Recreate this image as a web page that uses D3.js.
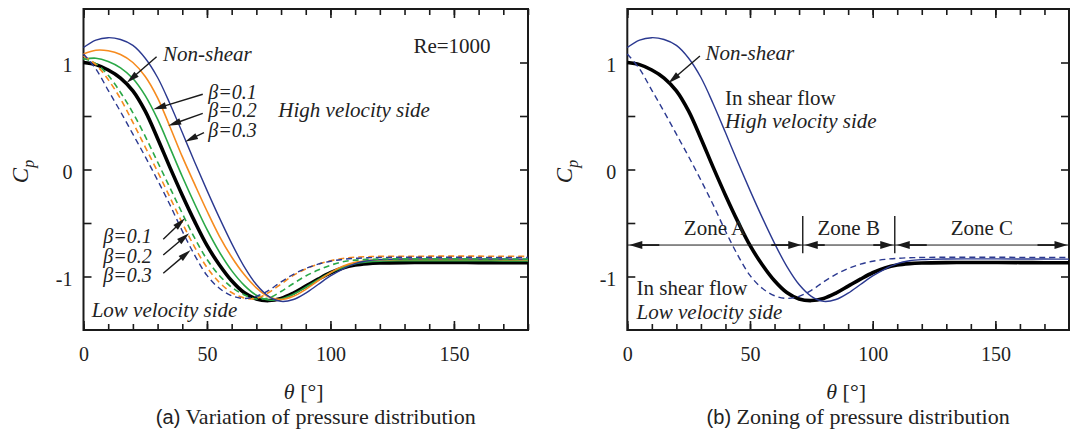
<!DOCTYPE html>
<html>
<head>
<meta charset="utf-8">
<script src="https://cdn.jsdelivr.net/npm/d3@7"></script>
<style>
  body { margin: 0; background: #fff; }
  svg { display: block; }
  text { font-family: "Liberation Serif", "Times New Roman", serif; fill: #222; }
</style>
</head>
<body>
<svg id="chart" width="1070" height="435"></svg>
<script>
// Angle around the cylinder from the front stagnation point [deg]
const thetaDeg = [0,5,10,15,20,25,30,35,40,45,50,55,60,65,70,75,80,85,90,95,100,105,110,115,120,130,140,150,160,170,180];

// Pressure coefficient, uniform (non-shear) flow
const cpNonShear = [1.00,0.98,0.93,0.855,0.735,0.545,0.29,0.02,-0.24,-0.485,-0.71,-0.89,-1.04,-1.15,-1.21,-1.225,-1.205,-1.155,-1.09,-1.025,-0.965,-0.92,-0.893,-0.88,-0.874,-0.87,-0.869,-0.869,-0.87,-0.871,-0.872];

// High velocity side, beta = 0.1 / 0.2 / 0.3
const cpHigh01 = [1.03,1.04,1.01,0.95,0.85,0.69,0.47,0.205,-0.065,-0.32,-0.56,-0.77,-0.945,-1.08,-1.175,-1.22,-1.21,-1.165,-1.10,-1.03,-0.965,-0.915,-0.88,-0.863,-0.856,-0.853,-0.852,-0.852,-0.853,-0.854,-0.855];
const cpHigh02 = [1.08,1.115,1.11,1.075,1.0,0.87,0.67,0.40,0.12,-0.137,-0.388,-0.622,-0.818,-0.98,-1.106,-1.19,-1.215,-1.185,-1.12,-1.04,-0.965,-0.905,-0.868,-0.851,-0.844,-0.84,-0.84,-0.84,-0.841,-0.842,-0.843];
const cpHigh03 = [1.14,1.21,1.232,1.215,1.16,1.04,0.86,0.615,0.345,0.07,-0.195,-0.45,-0.69,-0.905,-1.075,-1.185,-1.232,-1.215,-1.155,-1.075,-0.995,-0.93,-0.88,-0.853,-0.842,-0.836,-0.835,-0.835,-0.836,-0.837,-0.838];

// Low velocity side, beta = 0.1 / 0.2 / 0.3
const cpLow01 = [1.04,0.99,0.88,0.72,0.53,0.31,0.07,-0.17,-0.41,-0.64,-0.84,-0.99,-1.10,-1.17,-1.21,-1.20,-1.14,-1.065,-0.995,-0.94,-0.895,-0.862,-0.847,-0.84,-0.837,-0.835,-0.835,-0.835,-0.836,-0.837,-0.838];
const cpLow02 = [1.06,0.98,0.84,0.66,0.44,0.21,-0.02,-0.26,-0.50,-0.725,-0.915,-1.055,-1.15,-1.20,-1.205,-1.15,-1.07,-0.99,-0.93,-0.885,-0.852,-0.832,-0.82,-0.815,-0.812,-0.811,-0.81,-0.81,-0.81,-0.811,-0.812];
const cpLow03 = [1.08,0.94,0.74,0.54,0.33,0.12,-0.10,-0.33,-0.575,-0.80,-0.99,-1.11,-1.18,-1.205,-1.185,-1.13,-1.05,-0.98,-0.925,-0.885,-0.857,-0.84,-0.83,-0.825,-0.822,-0.82,-0.82,-0.82,-0.821,-0.822,-0.823];

// Axis ticks and labels
const xTickValues = [0, 50, 100, 150];
const xTickLabels = ["0", "50", "100", "150"];
const xMinorValues = [0,10,20,30,40,50,60,70,80,90,100,110,120,130,140,150,160,170,180];
const yTickValues = [-1, -0.5, 0, 0.5, 1];
const yTickLabels = ["-1", "", "0", "", "1"];

// Zones along the surface
const zoneEdges = [0, 71.5, 109, 180];
const zoneNames = ["Zone A", "Zone B", "Zone C"];
const betaLabels = ["\u03b2=0.1", "\u03b2=0.2", "\u03b2=0.3"];

const BLUE = "#2b3990", ORANGE = "#f68b1f", GREEN = "#2aa847", INK = "#1a1a1a";

const svg = d3.select("#chart");
svg.append("rect").attr("width", 1070).attr("height", 435).attr("fill", "#fff");

function makePanel(left, right, top, bottom) {
  const x = d3.scaleLinear().domain([0, 180]).range([left, right]);
  const y = d3.scaleLinear().domain([-1.5, 1.5]).range([bottom, top]);
  const g = svg.append("g");
  return { g, x, y };
}

function drawFrame(p) {
  const { g, x, y } = p;
  const [yb, yt] = y.range();
  const [xl, xr] = x.range();
  const ax = g.append("g").attr("color", INK);

  const styleAxis = sel => {
    sel.selectAll(".domain").remove();
    sel.selectAll("line").attr("stroke-width", 1.6);
    sel.attr("font-family", "'Liberation Serif','Times New Roman',serif").attr("font-size", 20);
    sel.selectAll("text").attr("fill", "#222");
  };

  ax.append("g").attr("transform", `translate(0,${yb})`)
    .call(d3.axisBottom(x).tickValues(xMinorValues).tickSizeInner(-6).tickSizeOuter(0).tickFormat(""))
    .call(styleAxis);
  ax.append("g").attr("transform", `translate(0,${yb})`)
    .call(d3.axisBottom(x).tickValues(xTickValues).tickSizeInner(-9).tickSizeOuter(0).tickPadding(17)
      .tickFormat((d, i) => xTickLabels[i]))
    .call(styleAxis);
  ax.append("g").attr("transform", `translate(0,${yt})`)
    .call(d3.axisTop(x).tickValues(xMinorValues).tickSizeInner(-6).tickSizeOuter(0).tickFormat(""))
    .call(styleAxis);
  ax.append("g").attr("transform", `translate(0,${yt})`)
    .call(d3.axisTop(x).tickValues(xTickValues).tickSizeInner(-9).tickSizeOuter(0).tickFormat(""))
    .call(styleAxis);
  const yl = ax.append("g").attr("transform", `translate(${xl},0)`)
    .call(d3.axisLeft(y).tickValues(yTickValues).tickSizeInner(-8).tickSizeOuter(0).tickPadding(11)
      .tickFormat((d, i) => yTickLabels[i]))
    .call(styleAxis);
  yl.selectAll("text").attr("dy", "0.45em");
  ax.append("g").attr("transform", `translate(${xr},0)`)
    .call(d3.axisRight(y).tickValues(yTickValues).tickSizeInner(-8).tickSizeOuter(0).tickFormat(""))
    .call(styleAxis);

  ax.append("rect")
    .attr("x", xl).attr("y", yt).attr("width", xr - xl).attr("height", yb - yt)
    .attr("fill", "none").attr("stroke", INK).attr("stroke-width", 2);

  // axis titles
  const cx = (xl + xr) / 2;
  const tl = g.append("text").attr("x", cx - 2).attr("y", 399).attr("text-anchor", "middle").attr("font-size", 22);
  tl.append("tspan").attr("font-style", "italic").text("\u03b8");
  tl.append("tspan").text(" [\u00b0]");

  const cl = g.append("text").attr("transform", `translate(${xl - 55.5},${(yt + yb) / 2 + 2}) rotate(-90)`)
    .attr("text-anchor", "middle").attr("font-size", 23).attr("font-style", "italic");
  cl.append("tspan").text("C");
  cl.append("tspan").attr("font-size", 16).attr("dy", 6).text("p");
}

function drawSeries(p, values, color, width, dashed) {
  const line = d3.line()
    .x((d, i) => p.x(thetaDeg[i]))
    .y(d => p.y(d))
    .curve(d3.curveCatmullRom.alpha(0.5));
  p.g.append("path")
    .datum(values)
    .attr("d", line)
    .attr("fill", "none")
    .attr("stroke", color)
    .attr("stroke-width", width)
    .attr("stroke-linejoin", "round")
    .attr("stroke-dasharray", dashed ? "6,4" : null);
}

function arrow(g, xa, ya, xb, yb, head = 13, hw = 3.3, sw = 1.4) {
  const dx = xb - xa, dy = yb - ya, L = Math.hypot(dx, dy);
  const ux = dx / L, uy = dy / L;
  const bx = xb - ux * head, by = yb - uy * head;
  g.append("line").attr("x1", xa).attr("y1", ya).attr("x2", bx + ux * 2).attr("y2", by + uy * 2)
    .attr("stroke", INK).attr("stroke-width", sw);
  g.append("path")
    .attr("d", `M${xb},${yb}L${bx - uy * hw},${by + ux * hw}L${bx + uy * hw},${by - ux * hw}Z`)
    .attr("fill", INK);
}

function label(p, th, cp, str, opts = {}) {
  return p.g.append("text")
    .attr("x", p.x(th)).attr("y", p.y(cp))
    .attr("font-size", opts.size || 21)
    .attr("font-style", opts.italic ? "italic" : null)
    .attr("text-anchor", opts.anchor || "start")
    .text(str);
}

// ---------- (a) Variation of pressure distribution ----------
const pa = makePanel(83.5, 528, 9, 330);
drawFrame(pa);
drawSeries(pa, cpNonShear, "#000", 3.6, false);
drawSeries(pa, cpHigh01, GREEN, 1.6, false);
drawSeries(pa, cpHigh02, ORANGE, 1.6, false);
drawSeries(pa, cpHigh03, BLUE, 1.4, false);
drawSeries(pa, cpLow01, GREEN, 1.6, true);
drawSeries(pa, cpLow02, ORANGE, 1.6, true);
drawSeries(pa, cpLow03, BLUE, 1.4, true);

label(pa, 32.2, 1.014, "Non-shear", { italic: true });
arrow(pa.g, pa.x(29.6), pa.y(1.054), pa.x(17.5), pa.y(0.811));

const upperBeta = [
  { base: 0.659, from: [48.3, 0.703], to: [28.3, 0.563] },
  { base: 0.488, from: [48.3, 0.525], to: [34.3, 0.409] },
  { base: 0.307, from: [48.8, 0.344], to: [41.1, 0.260] }
];
upperBeta.forEach((b, i) => {
  label(pa, 50.5, b.base, betaLabels[i], { italic: true, size: 20 });
  arrow(pa.g, pa.x(b.from[0]), pa.y(b.from[1]), pa.x(b.to[0]), pa.y(b.to[1]));
});
label(pa, 78.9, 0.488, "High velocity side", { italic: true });
label(pa, 133.6, 1.086, "Re=1000");

const lowerBeta = [
  { base: -0.684, from: [32.3, -0.652], to: [41.1, -0.456] },
  { base: -0.871, from: [32.3, -0.799], to: [42.8, -0.596] },
  { base: -1.054, from: [32.3, -0.970], to: [43.4, -0.752] }
];
lowerBeta.forEach((b, i) => {
  label(pa, 8.0, b.base, betaLabels[i], { italic: true, size: 20 });
  arrow(pa.g, pa.x(b.from[0]), pa.y(b.from[1]), pa.x(b.to[0]), pa.y(b.to[1]));
});
label(pa, 3.3, -1.381, "Low velocity side", { italic: true });

// ---------- (b) Zoning of pressure distribution ----------
const pb = makePanel(627.3, 1069, 9, 330);
drawFrame(pb);
drawSeries(pb, cpNonShear, "#000", 3.6, false);
drawSeries(pb, cpHigh03, BLUE, 1.4, false);
drawSeries(pb, cpLow03, BLUE, 1.4, true);

label(pb, 31.9, 1.023, "Non-shear", { italic: true });
arrow(pb.g, pb.x(29.6), pb.y(1.060), pb.x(16.7), pb.y(0.806));
label(pb, 39.8, 0.603, "In shear flow");
label(pb, 39.8, 0.385, "High velocity side", { italic: true });
label(pb, 3.8, -1.173, "In shear flow");
label(pb, 3.8, -1.40, "Low velocity side", { italic: true });

// zone dimension lines
const zy = pb.y(-0.706);
pb.g.append("line")
  .attr("x1", pb.x(zoneEdges[0])).attr("x2", pb.x(zoneEdges[3]))
  .attr("y1", zy).attr("y2", zy)
  .attr("stroke", INK).attr("stroke-width", 1);
[zoneEdges[1], zoneEdges[2]].forEach(e => {
  pb.g.append("line")
    .attr("x1", pb.x(e)).attr("x2", pb.x(e))
    .attr("y1", pb.y(-0.435)).attr("y2", pb.y(-0.783))
    .attr("stroke", INK).attr("stroke-width", 1.4);
});
zoneNames.forEach((name, i) => {
  const a = pb.x(zoneEdges[i]) + 2, b = pb.x(zoneEdges[i + 1]) - 1.5;
  const stem = i === 1 ? 20 : 30;
  arrow(pb.g, a + stem, zy, a, zy, 13, 4, 1.8);
  arrow(pb.g, b - stem, zy, b, zy, 13, 4, 1.8);
  label(pb, (zoneEdges[i] + zoneEdges[i + 1]) / 2, -0.612, name, { anchor: "middle" });
});

// ---------- captions ----------
function caption(cx, tag, str) {
  const t = svg.append("text").attr("x", cx).attr("y", 424).attr("text-anchor", "middle").attr("font-size", 22);
  t.append("tspan").attr("font-family", "'Liberation Sans', Arial, sans-serif").attr("font-size", 20).text(tag);
  t.append("tspan").text(" " + str);
}
caption((pa.x(0) + pa.x(180)) / 2 + 10, "(a)", "Variation of pressure distribution");
caption((pb.x(0) + pb.x(180)) / 2 + 10, "(b)", "Zoning of pressure distribution");
</script>
</body>
</html>
